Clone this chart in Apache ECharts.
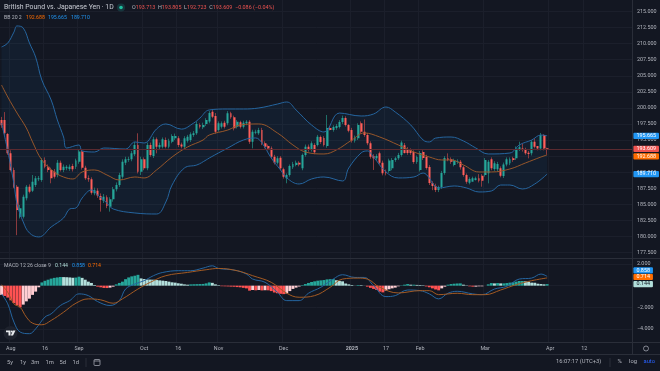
<!DOCTYPE html>
<html>
<head>
<meta charset="utf-8">
<title>GBP/JPY</title>
<style>
  html, body { margin: 0; padding: 0; background: #131722; }
  #chart { width: 660px; height: 371px; }
</style>
</head>
<body>
<div id="chart"></div>
<script src="https://cdn.jsdelivr.net/npm/echarts@6/dist/echarts.min.js"></script>
<script>
// candles, one entry per trading day
const opens = [198.1,198.1,195.94,192.93,190.34,187.75,183.08,183.08,185.93,187.75,187.1,188,188.9,188.78,191.9,190.86,190.34,190.08,189.56,191.48,190.34,190.6,190.5,190.96,190.86,191.64,193.2,190.7,189.04,188.9,186.7,187.12,186.3,185.57,186.08,184.63,185.77,187.33,188,189.3,191.48,191.9,192,192.78,194.23,190.08,192,190.6,194.23,192.5,195.11,193.87,193.97,195,193.97,194.75,195.27,195.27,194.3,193.97,194.9,195,195.8,196.05,197.34,197,197.5,197.9,199.4,198.74,196.57,197.08,197.7,197.6,199.16,198.54,197.08,197.76,197.08,197.6,197.86,194.75,196.15,196.05,196.57,194.5,194.08,193.7,192.4,191.48,192.26,190.45,189.04,189.56,190.76,191.12,191.48,190.6,192.68,193.97,193.45,194.23,194.23,195.47,195.32,194.07,196.87,196.56,196.87,197.03,197.8,198.43,197.34,196.56,194.9,195.27,197.6,196.3,195.8,194.5,192.5,192.16,192.93,191.48,190.08,190.2,190.6,191.9,192.16,192.68,194.2,193.6,193.45,193.14,191.58,190.34,193.14,192.36,190.8,188.3,187.85,187.23,187.7,189.87,192.15,192,191.1,191.63,191.63,190.75,189.56,188.36,188.52,188.78,189.04,189.45,189.56,189.82,192,190.49,190.44,190.6,189.4,191.2,191.37,192.15,192.15,193.55,193.7,193.55,193.03,192.93,194.74,194.07,193.7,195.78,193.713];
const closes = [197.3,196.05,192.93,190.34,187.75,184.12,184.37,186.19,187.75,186.97,188.5,189.04,189.05,191.9,190.86,190.34,189.04,189.3,191.48,190.34,190.86,190.86,190.86,190.44,191.8,193.2,190.7,189.04,188.9,186.8,187.2,186.35,185.67,186.19,184.74,185.77,187.33,188,189.56,191.64,192,192,192.93,194.23,190.08,192,190.6,194.23,192.67,195.11,193.97,194.23,195.11,193.97,194.9,195.63,195.63,194.23,194,195.27,195.5,195.9,196.05,197.5,197.08,197.34,198.1,199.2,198.64,196.3,197.6,197.6,197.08,199.16,198.54,196.83,197.86,197.08,197.7,197.86,194.75,196.3,196.3,196.57,194.5,193.97,193.7,192.4,191.48,192.16,190.6,189.3,189.56,190.96,191.28,191.48,191.2,192.68,193.97,193.56,194.5,193.09,195.53,194.7,194.23,196.87,196.56,197.03,197.2,197.8,198.43,197.34,196.46,194.9,195.37,197.34,196.3,195.8,194.5,192.4,192.16,192.5,191.48,189.82,189.82,191.8,191.9,192.16,192.68,194.6,193,193,193,191.58,192.36,192.98,192.2,190.65,188.3,187.85,187.23,187.7,189.87,192.2,191.9,191.63,191.8,191.73,190.75,189.56,188.52,188.93,189.04,189.04,188.67,188.67,191.89,191.63,190.6,191.37,191.27,189.45,191.2,192,192,191.89,193.7,193.86,193.45,192.93,192.82,194.74,193.96,193.7,195.78,193.7,193.609];
const lows = [196.9,195.8,192.7,190.1,187.5,180.2,182.8,182.8,185.6,186.7,186.9,187.7,188.6,188.5,190.6,190,188.27,189,189.2,190.1,190,190.3,190.2,190.1,190.5,191.3,190.4,188.8,188.5,186.5,186.4,186,183.86,185.2,184.4,183.86,185.4,187,187.7,189,191.1,191.6,191.7,192.5,189.8,189.56,190.3,190.3,192.4,192.2,192.93,193.5,193.7,193.7,193.7,194.5,195,193.9,193.7,193.7,194.6,194.7,195.5,195.8,196.8,196.7,197.2,197.6,198.4,196,196.3,196.8,196.8,197.3,198.3,196.5,196.8,196.8,196.8,197.3,194.4,193.7,195.9,195.8,194.2,193.7,193.4,192.1,191.2,191.2,190.3,189,188.27,189.3,190.5,190.9,190.9,190.3,192.4,193.2,193.2,192.8,194,194.4,194,193.8,196.5,196.3,196.6,196.8,197.5,197.1,196.2,194.6,194.6,195,196,195.5,194.2,192.1,190.34,191.9,191.2,189.5,189.5,189.9,190.3,191.6,191.9,192.4,192.9,192.7,192.7,191.3,191.3,190.1,191.9,190.4,188,187.2,186.9,186.9,187.4,189.6,191.7,191.3,190.9,191.3,190.4,189.3,188.2,188.1,188.7,188.7,188.4,187.74,189.3,188.26,190.3,190.2,190.1,189.2,189.1,190.9,191.1,191.6,191.9,193.3,193.2,192.7,192.15,192.6,193.7,193.4,193.4,193.4,192.723];
const highs = [198.6,199.35,196.1,193.4,190.7,188,184.9,186.5,188,188.1,189.56,189.4,189.4,192.2,192.3,191.2,190.7,190.5,191.9,191.8,191.2,191.1,191.2,191.3,192.1,193.6,193.5,191,189.5,189.2,187.6,187.5,186.7,186.6,186.4,186.1,187.7,188.4,189.9,192,192.4,192.4,193.3,194.7,196.05,192.4,192.3,194.6,194.6,195.5,195.4,194.6,195.4,195.4,195.2,195.9,196,195.6,194.6,195.6,195.8,196.2,196.4,197.9,197.6,197.7,198.4,199.5,199.7,199.2,197.9,197.9,198,199.5,199.4,198.8,198.1,198,198,198.1,198.1,196.6,196.6,196.9,196.9,194.8,194.3,194,192.7,192.5,192.5,190.7,189.8,191.2,191.6,191.8,191.7,192.9,194.3,194.3,194.8,194.5,195.8,195.7,195.6,198.9,197.2,197.3,197.5,198.1,198.8,198.7,197.5,196.9,195.7,197.6,197.9,198.2,196.1,194.8,192.8,192.8,193.2,191.8,190.4,192.1,192.2,192.4,193,194.9,194.54,193.9,193.7,193.4,192.6,193.3,193.4,192.7,191.1,188.6,188.2,187.9,190.2,192.5,192.93,192.3,192.1,192,191.9,191,189.8,189.2,189.3,189.3,189.7,189.7,192.2,191.9,192.3,191.7,191.6,190.9,191.5,192.3,192.3,192.4,194,194.74,194.48,193.8,193.3,195,195.26,194,196.1,195.9,193.805];

// bollinger band lines, [bar index, price] read at the places where the curve bends
const bbUpper = [[0,209.48],[2,210.1],[4,211.8],[5,212.75],[7,212.43],[9,210.1],[11,207.9],[13,204.34],[16,201.23],[18,198.12],[20,195.47],[21,193.76],[25,194.23],[26,193.3],[30,193.14],[33,193.76],[40,193.6],[43,194.7],[46,194.54],[50,196.72],[53,197.5],[58,196.7],[62,197.65],[64,198.43],[67,199.68],[73,199.83],[78,199.83],[83,199.99],[89,200.6],[92,200.92],[95,199.68],[100,197.34],[104,196.25],[109,199.2],[116,198.74],[120,199.05],[124,200.14],[127,199.36],[132,197.34],[136,195],[138,194.7],[140,195.3],[145,195.47],[149,194.85],[153,193.76],[157,192.83],[164,192.98],[167,194.23],[171,195],[174,195.78],[176,195.665]];
const bbMiddle = [[0,203.56],[2,201.7],[5,199.2],[8,196.87],[10,194.7],[13,191.9],[17,190.03],[20,189.25],[23,188.94],[26,190.03],[30,190.34],[34,189.56],[38,188.78],[43,189.25],[46,189.1],[50,190.34],[55,192.36],[60,193.92],[65,195],[67,195.78],[73,196.56],[77,197.34],[83,197.5],[89,196.1],[94,194.23],[98,193.14],[104,192.83],[108,193.45],[113,195],[117,196.1],[122,195.47],[128,194.23],[133,193.14],[138,192.36],[142,191.9],[145,191.9],[149,191.12],[154,190.03],[158,190.03],[164,190.5],[169,191.43],[174,192.36],[176,192.688]];
const bbLower = [[0,197.65],[2,193.3],[4,188.16],[5,185.05],[7,182.25],[9,180.54],[12,179.92],[16,181.47],[20,182.87],[22,184.27],[24,184.43],[26,185.98],[29,187.23],[31,186.45],[34,185.2],[36,184.27],[43,183.65],[50,183.49],[53,185.36],[55,188],[59,190.65],[63,191.12],[66,191.9],[67,192.2],[73,193.76],[78,195],[82,195.32],[84,194.54],[87,192.2],[90,190.34],[92,189.1],[96,188.16],[100,188.94],[104,189.25],[110,188.63],[112,190.65],[116,193],[118,193.3],[120,192.36],[124,190.03],[128,189.1],[133,189.25],[136,189.87],[138,189.1],[139,188.3],[141,187.54],[146,187.85],[150,187.54],[154,186.92],[158,187.07],[161,188],[164,188],[168,187.38],[172,188.16],[176,189.71]];

// macd pane
const histogram = [-0.85,-0.95,-1.1,-1.35,-1.6,-1.8,-2,-1.75,-1.45,-1.2,-0.85,-0.55,-0.15,0.3,0.45,0.55,0.65,0.72,0.76,0.8,0.79,0.78,0.76,0.73,0.75,0.83,0.72,0.55,0.37,0.25,0.06,-0.09,-0.15,-0.21,-0.22,-0.18,-0.09,0.12,0.25,0.37,0.6,0.76,0.86,0.92,1,0.67,0.61,0.57,0.56,0.55,0.52,0.49,0.46,0.43,0.37,0.31,0.28,0.22,0.18,0.12,0.09,0.12,0.13,0.14,0.15,0.16,0.21,0.3,0.26,0.12,0.05,-0.05,-0.06,-0.07,-0.09,-0.1,-0.13,-0.15,-0.2,-0.25,-0.46,-0.4,-0.43,-0.4,-0.44,-0.42,-0.43,-0.5,-0.63,-0.7,-0.75,-0.78,-0.72,-0.5,-0.3,-0.18,-0.08,0.05,0.15,0.25,0.34,0.4,0.46,0.49,0.52,0.58,0.6,0.62,0.5,0.44,0.4,0.2,0.12,0.06,0.01,0.06,0.05,0.01,-0.09,-0.2,-0.3,-0.4,-0.55,-0.62,-0.45,-0.33,-0.25,-0.18,-0.06,0.03,0.09,0.15,0.09,0.09,0.07,0.06,0.04,-0.07,-0.15,-0.25,-0.35,-0.43,-0.25,-0.09,0.09,0.15,0.18,0.2,0.21,0.09,0.03,-0.06,-0.09,-0.09,-0.06,-0.06,0,0.12,0.24,0.21,0.24,0.21,0.21,0.24,0.28,0.31,0.37,0.43,0.43,0.4,0.37,0.28,0.27,0.18,0.15,0.12,0.144];
const macdLine = [[0,-0.76],[2,-1.68],[4,-3.36],[6,-4.28],[9,-4.43],[11,-3.98],[14,-2.9],[16,-2.6],[19,-1.83],[22,-1.38],[25,-0.76],[28,-0.92],[31,-1.47],[35,-1.83],[38,-1.38],[40,-0.31],[43,0.15],[46,0.46],[49,0.92],[52,1.22],[57,1.38],[61,1.38],[65,1.62],[68,1.83],[70,1.59],[75,1.44],[79,1.07],[81,0.61],[85,0.31],[89,-0.61],[92,-1.38],[96,-1.38],[99,-0.7],[103,-0.15],[107,0.61],[110,1.01],[114,0.76],[117,0.76],[120,0],[124,-1.01],[127,-0.92],[131,-0.4],[135,-0.46],[138,-0.76],[141,-1.22],[144,-0.7],[147,-0.52],[152,-0.76],[155,-0.83],[159,-0.31],[163,-0.06],[167,0.61],[171,0.7],[174,1.07],[176,0.858]];
const signalLine = [[0,0.09],[2,-0.61],[4,-1.68],[6,-1.99],[8,-2.9],[10,-3.46],[13,-3.61],[16,-3.21],[20,-2.45],[24,-1.62],[28,-1.22],[32,-1.31],[36,-1.62],[39,-1.22],[44,-0.31],[48,0.31],[53,0.92],[60,1.22],[66,1.47],[70,1.59],[76,1.38],[81,0.92],[87,0.31],[92,-0.7],[96,-1.07],[101,-0.92],[106,-0.15],[110,0.61],[115,0.7],[118,0.61],[122,-0.15],[128,-0.67],[135,-0.46],[138,-0.46],[141,-0.83],[147,-0.7],[152,-0.83],[156,-0.83],[161,-0.4],[166,0.09],[171,0.46],[176,0.714]];

// time axis, the chart runs on past the last candle
const barSlots = 204;
const tickIndex = [3, 14, 25, 46, 57, 70, 91, 113, 124, 135, 156, 177, 188];
const tickLabels = ['Aug', '16', 'Sep', 'Oct', '16', 'Nov', 'Dec', '2025', '17', 'Feb', 'Mar', 'Apr', '12'];

const FONT = 'Roboto, sans-serif';
const TEXT = '#b2b5be';
const GRID = '#1b1f2b';
const UP = '#26a69a';
const DOWN = '#ef5350';
const BLUE = '#2196f3';
const ORANGE = '#ff6d00';

const slots = [];
for (let i = 0; i < barSlots; i++) slots.push(String(i));
const candles = opens.map((o, i) => [o, closes[i], lows[i], highs[i]]);

// tradingview colours the histogram by sign and direction
const histData = histogram.map((v, i) => {
  const rising = i === 0 ? true : v >= histogram[i - 1];
  let color;
  if (v >= 0) color = rising ? UP : '#b2dfdb';
  else color = rising ? '#ffcdd2' : '#ff5252';
  return { value: v, itemStyle: { color: color } };
});

function tag (value, text, bg, fg, offset) {
  return {
    yAxis: value,
    lineStyle: { color: 'transparent', width: 0 },
    label: {
      formatter: text, color: fg || '#fff', backgroundColor: bg, fontSize: 5.4, fontFamily: FONT, borderRadius: 1,
      padding: [0.8, 3, 0.4, 3], distance: 1, offset: offset || [0, 0]
    }
  };
}

function txt (x, y, text, color, size) {
  return {
    type: 'text', x: x, y: y, silent: true,
    style: { text: text, fill: color, fontSize: size, fontFamily: FONT, textVerticalAlign: 'middle' }
  };
}

const graphics = [
  // pane separators
  { type: 'line', shape: { x1: 0, y1: 258.5, x2: 660, y2: 258.5 }, style: { stroke: '#2a2e39', lineWidth: 1 }, silent: true },
  { type: 'line', shape: { x1: 0, y1: 342.5, x2: 660, y2: 342.5 }, style: { stroke: '#2a2e39', lineWidth: 1 }, silent: true },
  { type: 'line', shape: { x1: 0, y1: 354.5, x2: 660, y2: 354.5 }, style: { stroke: '#2a2e39', lineWidth: 1 }, silent: true },
  { type: 'line', shape: { x1: 632.5, y1: 0, x2: 632.5, y2: 354 }, style: { stroke: '#2a2e39', lineWidth: 1 }, silent: true },
  // header
  txt(4, 7.5, 'British Pound vs. Japanese Yen \u00b7 1D', '#c8cbd3', 6.9),
  { type: 'circle', shape: { cx: 121, cy: 7.5, r: 4 }, style: { fill: 'rgba(38,166,154,0.22)' }, silent: true },
  { type: 'circle', shape: { cx: 121, cy: 7.5, r: 1.8 }, style: { fill: '#1fbf9f' }, silent: true },
  {
    type: 'text', x: 132, y: 7.5, silent: true,
    style: {
      text: '{g|O}{r|193.713}  {g|H}{r|193.805}  {g|L}{r|192.723}  {g|C}{r|193.609}  {r|\u22120.086 (\u22120.04%)}',
      textVerticalAlign: 'middle', fontFamily: FONT, fontSize: 5.4,
      rich: {
        g: { fill: TEXT, fontSize: 5.4, fontFamily: FONT },
        r: { fill: DOWN, fontSize: 5.4, fontFamily: FONT }
      }
    }
  },
  txt(4, 17.5, 'BB 20 2', TEXT, 5.2),
  txt(26, 17.5, '192.688', ORANGE, 5.2),
  txt(48, 17.5, '195.665', BLUE, 5.2),
  txt(71, 17.5, '189.710', BLUE, 5.2),
  // macd legend
  txt(4, 265.5, 'MACD 12 26 close 9', TEXT, 5.2),
  txt(55, 265.5, '0.144', '#b2dfdb', 5.2),
  txt(72, 265.5, '0.858', BLUE, 5.2),
  txt(88, 265.5, '0.714', ORANGE, 5.2),
  // logo
  { type: 'circle', shape: { cx: 10.5, cy: 333, r: 7 }, style: { fill: '#1e222d' }, silent: true },
  { type: 'polygon', shape: { points: [[6, 330.5], [10.5, 330.5], [10.5, 335.5], [8.5, 335.5], [8.5, 332.2], [6, 332.2]] }, style: { fill: '#e8eaee' }, silent: true },
  { type: 'circle', shape: { cx: 11.8, cy: 331.5, r: 1 }, style: { fill: '#e8eaee' }, silent: true },
  { type: 'polygon', shape: { points: [[13, 330.5], [15.5, 330.5], [13, 335.5], [10.8, 335.5]] }, style: { fill: '#e8eaee' }, silent: true },
  // bottom bar
  txt(7, 362.5, '5y', TEXT, 5.8),
  txt(20, 362.5, '1y', TEXT, 5.8),
  txt(31, 362.5, '3m', TEXT, 5.8),
  txt(45.5, 362.5, '1m', TEXT, 5.8),
  txt(59.5, 362.5, '5d', TEXT, 5.8),
  txt(72.5, 362.5, '1d', TEXT, 5.8),
  { type: 'line', shape: { x1: 86, y1: 358, x2: 86, y2: 367 }, style: { stroke: '#2a2e39', lineWidth: 1 }, silent: true },
  { type: 'rect', shape: { x: 94, y: 359.5, width: 6, height: 6, r: 1 }, style: { fill: 'none', stroke: TEXT, lineWidth: 0.7 }, silent: true },
  { type: 'line', shape: { x1: 94, y1: 361, x2: 100, y2: 361 }, style: { stroke: TEXT, lineWidth: 0.7 }, silent: true },
  txt(556, 362, '16:07:17 (UTC+3)', TEXT, 5.8),
  { type: 'line', shape: { x1: 610, y1: 358, x2: 610, y2: 367 }, style: { stroke: '#2a2e39', lineWidth: 1 }, silent: true },
  txt(617.5, 362, '%', TEXT, 5.8),
  txt(629, 362, 'log', TEXT, 5.8),
  txt(643.5, 362, 'auto', '#2962ff', 5.8),
  { type: 'circle', shape: { cx: 646, cy: 348.5, r: 2.5 }, style: { fill: 'none', stroke: TEXT, lineWidth: 0.7 }, silent: true }
];
graphics.forEach((g) => { g.z = 100; });

const option = {
  backgroundColor: '#131722',
  animation: false,
  grid: [
    { left: 0, top: 0, width: 632.4, height: 342 },
    { left: 0, top: 11.5, width: 632.4, height: 241 },
    { left: 0, top: 264, width: 632.4, height: 65 }
  ],
  xAxis: [
    {
      type: 'category', gridIndex: 0, data: slots, boundaryGap: true,
      axisLine: { show: false }, axisTick: { show: false },
      axisLabel: {
        interval: (i) => tickIndex.indexOf(i) >= 0,
        formatter: (v, i) => {
          const label = tickLabels[tickIndex.indexOf(i)];
          return label === '2025' ? '{b|2025}' : label;
        },
        color: TEXT, fontSize: 5.4, fontFamily: FONT, margin: 4.5,
        rich: { b: { fontWeight: 'bold', fontSize: 5.4, color: TEXT, fontFamily: FONT } }
      },
      splitLine: { show: true, interval: (i) => tickIndex.indexOf(i) >= 0, lineStyle: { color: GRID, width: 1 } }
    },
    { type: 'category', gridIndex: 1, data: slots, show: false },
    { type: 'category', gridIndex: 2, data: slots, show: false }
  ],
  yAxis: [
    { type: 'value', gridIndex: 0, show: false, min: 0, max: 1, splitLine: { show: false } },
    {
      type: 'value', gridIndex: 1, position: 'right', min: 177.5, max: 215, interval: 2.5, scale: true,
      axisLine: { show: false }, axisTick: { show: false },
      axisLabel: { color: TEXT, fontSize: 5.4, fontFamily: FONT, margin: 4.5, formatter: (v) => v.toFixed(3) },
      splitLine: { lineStyle: { color: GRID, width: 1 } }
    },
    {
      type: 'value', gridIndex: 2, position: 'right', min: -4, max: 2, interval: 2,
      axisLine: { show: false }, axisTick: { show: false },
      axisLabel: {
        color: TEXT, fontSize: 5.4, fontFamily: FONT, margin: 4.5,
        formatter: (v) => (v === 0 ? '' : v.toFixed(3).replace('-', '\u2212'))
      },
      splitLine: { lineStyle: { color: GRID, width: 1 } }
    }
  ],
  series: [
    {
      name: 'BB fill', type: 'custom', xAxisIndex: 1, yAxisIndex: 1, z: 1, silent: true,
      data: [[0, 190]], encode: { x: 0, y: 1 }, clip: true,
      renderItem: (params, api) => {
        const pts = bbUpper.concat(bbLower.slice().reverse()).map((p) => api.coord(p));
        return { type: 'polygon', shape: { points: pts }, style: { fill: 'rgba(33,150,243,0.06)' } };
      }
    },
    {
      name: 'wick', type: 'candlestick', xAxisIndex: 1, yAxisIndex: 1, z: 3, data: candles, barWidth: 1,
      itemStyle: { color: '#1f6f68', color0: '#8a3a3e', borderColor: '#1f6f68', borderColor0: '#8a3a3e', borderWidth: 1 }
    },
    {
      name: 'candles', type: 'candlestick', xAxisIndex: 1, yAxisIndex: 1, z: 4, data: candles, barWidth: 2.4,
      itemStyle: { color: UP, color0: '#ff5f5a', borderWidth: 0 },
      markLine: {
        silent: true, symbol: 'none', animation: false, z: 50,
        label: { position: 'end' },
        data: [
          { yAxis: 193.609, lineStyle: { color: '#5a2a30', type: 'solid', width: 1 },
            label: { formatter: '193.609', color: '#fff', backgroundColor: DOWN, fontSize: 5.4, fontFamily: FONT, borderRadius: 1, padding: [0.8, 3, 0.4, 3], distance: 1 } },
          tag(195.665, '195.665', BLUE),
          tag(192.688, '192.688', ORANGE, '#fff', [0, 1.5]),
          tag(189.71, '189.710', BLUE)
        ]
      }
    },
    { name: 'BB upper', type: 'line', xAxisIndex: 1, yAxisIndex: 1, z: 5, data: bbUpper, smooth: 0.4, showSymbol: false, lineStyle: { color: '#25659f', width: 1 } },
    { name: 'BB lower', type: 'line', xAxisIndex: 1, yAxisIndex: 1, z: 5, data: bbLower, smooth: 0.4, showSymbol: false, lineStyle: { color: '#25659f', width: 1 } },
    { name: 'BB basis', type: 'line', xAxisIndex: 1, yAxisIndex: 1, z: 5, data: bbMiddle, smooth: 0.4, showSymbol: false, lineStyle: { color: '#96562a', width: 1 } },
    {
      name: 'Histogram', type: 'bar', xAxisIndex: 2, yAxisIndex: 2, z: 3, data: histData, barWidth: 2.9,
      markLine: {
        silent: true, symbol: 'none', animation: false, z: 50,
        label: { position: 'end' },
        data: [
          tag(0.858, '0.858', BLUE, '#fff', [0, -6]),
          tag(0.714, '0.714', ORANGE, '#fff', [0, -1]),
          tag(0.144, '0.144', '#b2dfdb', '#131722')
        ]
      }
    },
    { name: 'MACD', type: 'line', xAxisIndex: 2, yAxisIndex: 2, z: 5, data: macdLine, smooth: 0.4, clip: false, showSymbol: false, lineStyle: { color: '#25659f', width: 1 } },
    { name: 'Signal', type: 'line', xAxisIndex: 2, yAxisIndex: 2, z: 5, data: signalLine, smooth: 0.4, clip: false, showSymbol: false, lineStyle: { color: '#a35a22', width: 1 } }
  ],
  graphic: graphics
};

const chart = echarts.init(document.getElementById('chart'));
chart.setOption(option);
</script>
</body>
</html>
